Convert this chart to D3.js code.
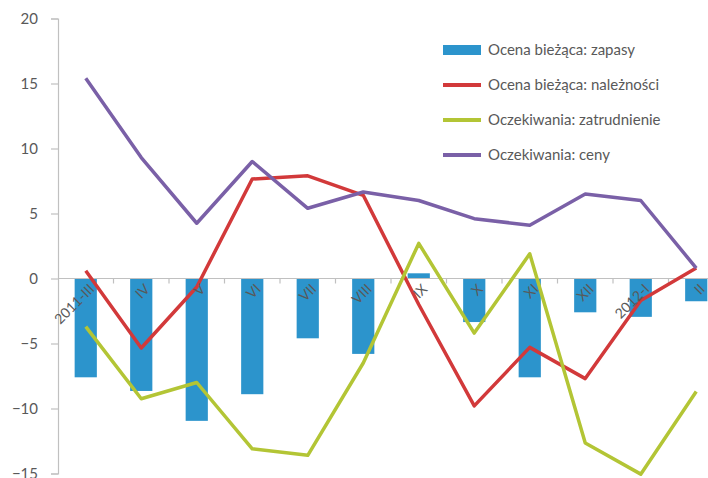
<!DOCTYPE html>
<html>
<head>
<meta charset="utf-8">
<script src="https://cdn.jsdelivr.net/npm/d3@7"></script>
<style>
  body { margin: 0; background: #fff; }
  text { font-family: Lato, "Open Sans", sans-serif; fill: #595959; }
</style>
</head>
<body>
<svg id="chart" width="708" height="478"></svg>
<script>
const categories = ['2011-III', 'IV', 'V', 'VI', 'VII', 'VIII', 'IX', 'X', 'XI', 'XII', '2012-I', 'II'];
const zapasy = [-7.6, -8.65, -10.95, -8.9, -4.6, -5.8, 0.4, -3.35, -7.6, -2.6, -2.95, -1.75];
const naleznosci = [0.6, -5.35, -0.65, 7.65, 7.9, 6.4, -2.0, -9.8, -5.3, -7.7, -1.7, 0.8];
const zatrudnienie = [-3.7, -9.25, -8.0, -13.1, -13.6, -6.5, 2.7, -4.2, 1.9, -12.65, -15.05, -8.7];
const ceny = [15.4, 9.3, 4.25, 9.0, 5.4, 6.65, 6.0, 4.6, 4.1, 6.5, 6.0, 0.8];
const yTicks = [20, 15, 10, 5, 0, -5, -10, -15];

const lineSeries = [
    {name: 'Ocena bieżąca: należności', values: naleznosci, color: '#d2393a'},
    {name: 'Oczekiwania: zatrudnienie', values: zatrudnienie, color: '#b3c535'},
    {name: 'Oczekiwania: ceny', values: ceny, color: '#7a60a7'}
];

const svg = d3.select('#chart');

const y = d3.scaleLinear().domain([-15, 20]).range([473.5, 18.5]);
const x = d3.scaleBand().domain(categories).range([58, 724]).paddingInner(0.6).paddingOuter(0.3);
const xc = d => x(d) + x.bandwidth() / 2;
const step = x.step();

// y axis
const yAxis = svg.append('g')
    .attr('transform', 'translate(58,0)')
    .call(d3.axisLeft(y).tickValues(yTicks).tickSize(7).tickPadding(13).tickFormat(d3.format('d')));
yAxis.select('.domain').attr('stroke', '#c0c0c0').attr('stroke-width', 1.2);
yAxis.selectAll('.tick line').attr('stroke', '#c0c0c0').attr('stroke-width', 1.2);
yAxis.selectAll('.tick text').style('font-size', '15px').attr('fill', '#595959');

// bars
svg.append('g')
    .selectAll('rect')
    .data(zapasy)
    .enter()
    .append('rect')
        .attr('x', (d, i) => x(categories[i]))
        .attr('width', x.bandwidth())
        .attr('y', d => y(Math.max(0, d)))
        .attr('height', d => Math.abs(y(d) - y(0)))
        .attr('fill', '#2c94cc');

// zero axis with category ticks
svg.append('line')
    .attr('x1', 58).attr('x2', 708)
    .attr('y1', y(0)).attr('y2', y(0))
    .attr('stroke', '#c0c0c0').attr('stroke-width', 1.2);
svg.append('g')
    .selectAll('line')
    .data(categories)
    .enter()
    .append('line')
        .attr('x1', d => xc(d) + step / 2)
        .attr('x2', d => xc(d) + step / 2)
        .attr('y1', y(0))
        .attr('y2', y(0) + 5)
        .attr('stroke', '#c0c0c0').attr('stroke-width', 1.2);

// lines
const line = d3.line().x((d, i) => xc(categories[i])).y(d => y(d));
svg.append('g')
    .selectAll('path')
    .data(lineSeries)
    .enter()
    .append('path')
        .attr('d', d => line(d.values))
        .attr('fill', 'none')
        .attr('stroke', d => d.color)
        .attr('stroke-width', 3.5)
        .attr('stroke-linejoin', 'round');

// category labels
svg.append('g')
    .selectAll('text')
    .data(categories)
    .enter()
    .append('text')
        .attr('transform', d => `translate(${xc(d) + 6},${y(0) + 8}) rotate(-45)`)
        .attr('text-anchor', 'end')
        .attr('dy', '0.35em')
        .style('font-size', '14px')
        .attr('fill', '#404040')
        .text(d => d);

// legend
const legendItems = [{name: 'Ocena bieżąca: zapasy', color: '#2c94cc', bar: true}].concat(lineSeries);
const legend = svg.append('g')
    .selectAll('g')
    .data(legendItems)
    .enter()
    .append('g')
        .attr('transform', (d, i) => `translate(443,${50 + i * 35})`);
legend.filter(d => d.bar).append('rect')
    .attr('x', 0).attr('y', -5).attr('width', 38).attr('height', 10)
    .attr('fill', d => d.color);
legend.filter(d => !d.bar).append('line')
    .attr('x1', 0).attr('x2', 38)
    .attr('stroke', d => d.color)
    .attr('stroke-width', 4);
legend.append('text')
    .attr('x', 45)
    .attr('dy', '0.35em')
    .style('font-size', '15px')
    .text(d => d.name);
</script>
</body>
</html>
